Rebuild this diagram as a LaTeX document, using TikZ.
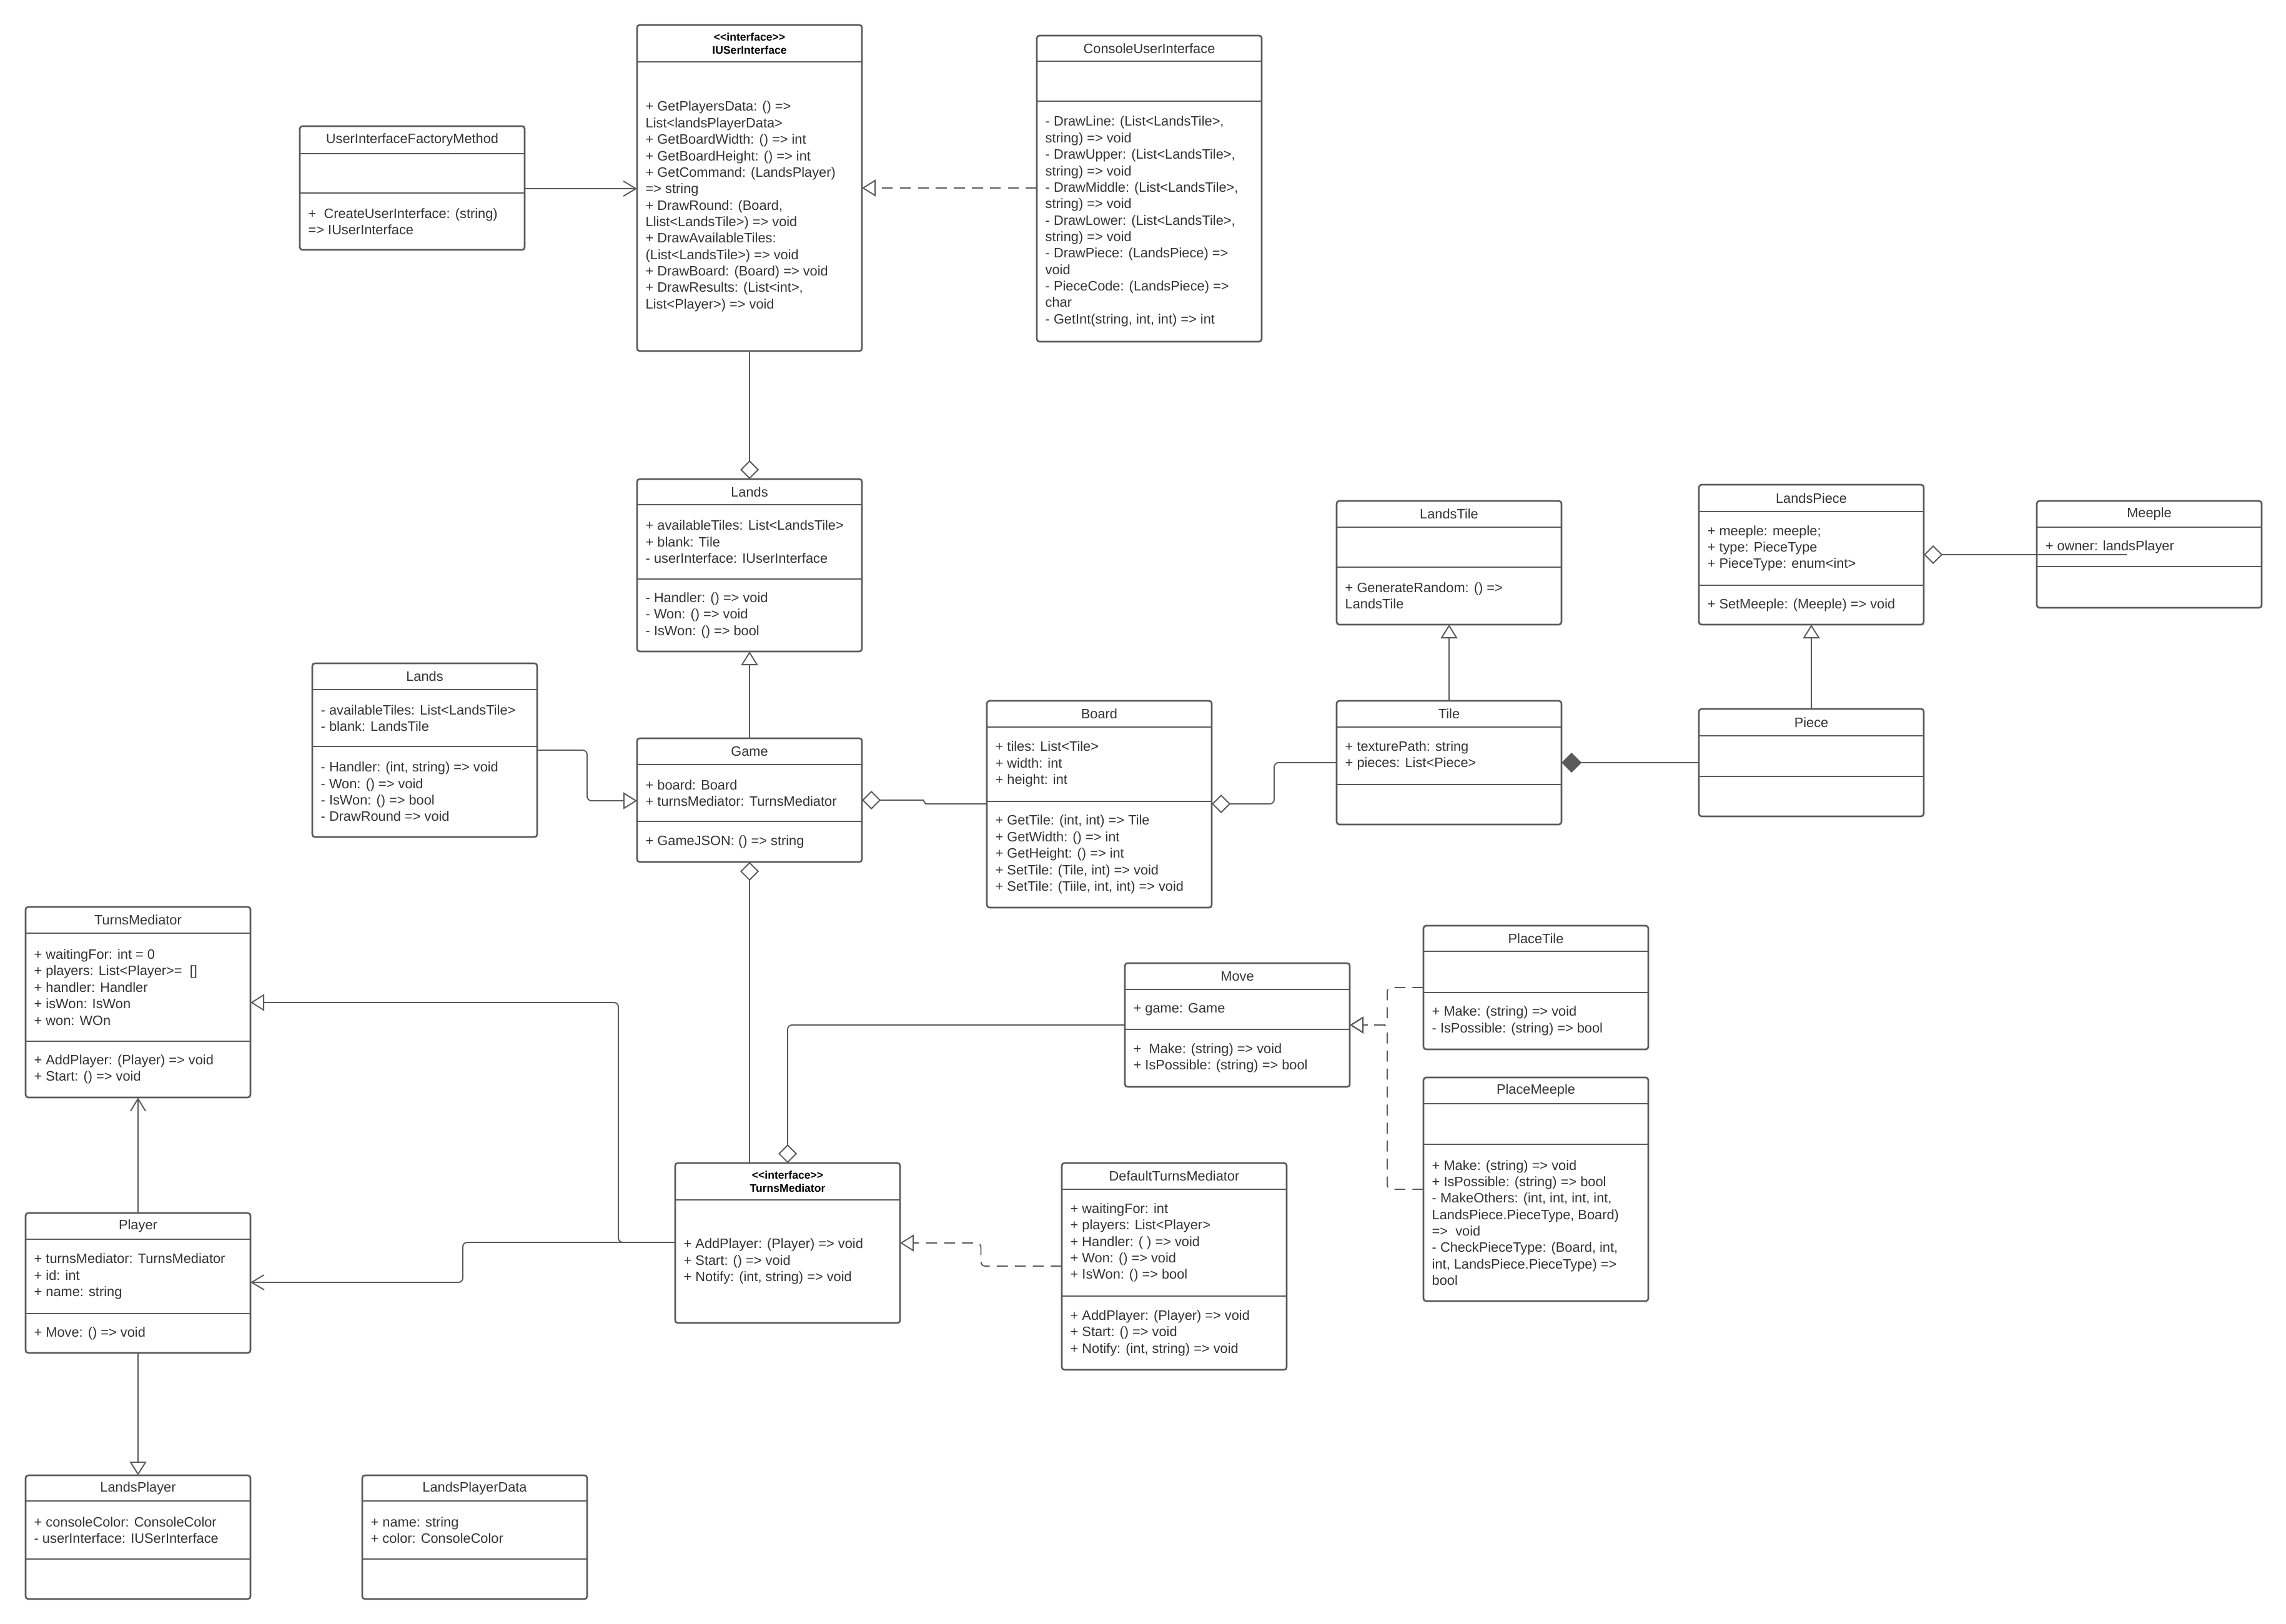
\documentclass[tikz,border=0pt]{standalone}
\usepackage{fontspec}
\setmainfont{Liberation Sans}
\usepackage{xcolor}
\usepackage{tikz}
\usetikzlibrary{arrows.meta,calc}
\definecolor{umlline}{HTML}{5A5A5A}
\definecolor{umltext}{HTML}{333333}

% name, x, y, height, first rule, second rule, title, attributes, operations
\newcommand{\umlclass}[9]{%
  \node[classbox, minimum height=#4mm] (#1) at (#2,#3) {};
  \draw[rulebar] ($(#1.north west)+(0,#5)$) -- ($(#1.north east)+(0,#5)$);
  \draw[rulebar] ($(#1.north west)+(0,#6)$) -- ($(#1.north east)+(0,#6)$);
  \node[classname] (#1-name) at ($(#1.north)+(0,#5/2)$) {#7};
  \node[members] (#1-attr) at ($(#1.north west)+(1.3,{(#5+#6)/2})$) {#8};
  \node[members] (#1-ops) at ($(#1.north west)+(1.3,{(#6+#4)/2})$) {#9};
}
% name, x, y, height, rule, title, operations
\newcommand{\umliface}[7]{%
  \node[classbox, minimum height=#4mm] (#1) at (#2,#3) {};
  \draw[rulebar] ($(#1.north west)+(0,#5)$) -- ($(#1.north east)+(0,#5)$);
  \node[ifacename] (#1-name) at ($(#1.north)+(0,#5/2)$) {#6};
  \node[members] (#1-ops) at ($(#1.north west)+(1.3,{(#5+#4)/2})$) {#7};
}

\begin{document}
\begin{tikzpicture}[
  x=1mm, y=-1mm,
  classbox/.style={draw=umlline, line width=0.75pt, fill=white, rounded corners=1.2pt,
                   minimum width=36mm, inner sep=0pt, outer sep=0pt, anchor=north west},
  rulebar/.style={draw=umlline, line width=0.75pt},
  classname/.style={font=\fontsize{6.2}{7.5}\selectfont, text=umltext, inner sep=0pt},
  ifacename/.style={font=\bfseries\fontsize{5}{6}\selectfont, text=black, align=center, inner sep=0pt},
  members/.style={font=\fontsize{6.2}{7.5}\selectfont, text=umltext, align=left, anchor=west, inner sep=0pt},
  conn/.style={draw=umlline, line width=0.55pt, rounded corners=2pt},
  gen/.style={conn, -{Triangle[open, length=2.2mm, width=2.7mm]}},
  real/.style={gen, dash pattern=on 5pt off 3.2pt},
  aggr/.style={conn, -{Diamond[open, length=3mm, width=3mm]}},
  comp/.style={conn, -{Diamond[length=3.2mm, width=3.2mm]}, fill=umlline},
  assoc/.style={conn, -{Straight Barb[length=2mm, width=2.4mm]}}
]
  \path[use as bounding box, fill=white] (0,0) rectangle (366,260);

  \umliface{iuser}{102}{4}{52.2}{5.9}{<{}<interface>{}>\\IUSerInterface}
    {+ GetPlayersData: () =>\\List<landsPlayerData>\\+ GetBoardWidth: () => int\\+ GetBoardHeight: () => int\\+ GetCommand: (LandsPlayer)\\=> string\\+ DrawRound: (Board,\\Llist<LandsTile>) => void\\+ DrawAvailableTiles:\\(List<LandsTile>) => void\\+ DrawBoard: (Board) => void\\+ DrawResults: (List<int>,\\List<Player>) => void}
  \umlclass{console}{166}{5.7}{49}{4.1}{10.5}{ConsoleUserInterface}{}
    {- DrawLine: (List<LandsTile>,\\string) => void\\- DrawUpper: (List<LandsTile>,\\string) => void\\- DrawMiddle: (List<LandsTile>,\\string) => void\\- DrawLower: (List<LandsTile>,\\string) => void\\- DrawPiece: (LandsPiece) =>\\void\\- PieceCode: (LandsPiece) =>\\char\\- GetInt(string, int, int) => int}
  \umlclass{factory}{48}{20.2}{19.8}{4.4}{10.7}{UserInterfaceFactoryMethod}{}
    {+~ CreateUserInterface: (string)\\=> IUserInterface}
  \umlclass{lands}{102}{76.7}{27.6}{4.1}{16}{Lands}
    {+ availableTiles: List<LandsTile>\\+ blank: Tile\\- userInterface: IUserInterface}
    {- Handler: () => void\\- Won: () => void\\- IsWon: () => bool}
  \umlclass{landsold}{50}{106.2}{27.8}{4.2}{13.3}{Lands}
    {- availableTiles: List<LandsTile>\\- blank: LandsTile}
    {- Handler: (int, string) => void\\- Won: () => void\\- IsWon: () => bool\\- DrawRound => void}
  \umlclass{game}{102}{118.2}{19.8}{4.2}{13.3}{Game}
    {+ board: Board\\+ turnsMediator: TurnsMediator}
    {+ GameJSON: () => string}
  \umlclass{board}{158}{112.2}{33.1}{4.2}{16.1}{Board}
    {+ tiles: List<Tile>\\+ width: int\\+ height: int}
    {+ GetTile: (int, int) => Tile\\+ GetWidth: () => int\\+ GetHeight: () => int\\+ SetTile: (Tile, int) => void\\+ SetTile: (Tiile, int, int) => void}
  \umlclass{landstile}{214}{80.2}{19.8}{4.2}{10.6}{LandsTile}{}
    {+ GenerateRandom: () =>\\LandsTile}
  \umlclass{tile}{214}{112.2}{19.8}{4.2}{13.4}{Tile}
    {+ texturePath: string\\+ pieces: List<Piece>}{}
  \umlclass{landspiece}{272}{77.6}{22.4}{4.3}{16.1}{LandsPiece}
    {+ meeple: meeple;\\+ type: PieceType\\+ PieceType: enum<int>}
    {+ SetMeeple: (Meeple) => void}
  \umlclass{piece}{272}{113.5}{17.2}{4.3}{10.8}{Piece}{}{}
  \umlclass{meeple}{326.1}{80.2}{17.1}{4.2}{10.5}{Meeple}
    {+ owner: landsPlayer}{}
  \umlclass{turnsmed}{4.1}{145.2}{30.5}{4.2}{21.5}{TurnsMediator}
    {+ waitingFor: int = 0\\+ players: List<Player>=~ []\\+ handler: Handler\\+ isWon: IsWon\\+ won: WOn}
    {+ AddPlayer: (Player) => void\\+ Start: () => void}
  \umlclass{player}{4.1}{194.2}{22.4}{4.2}{16.1}{Player}
    {+ turnsMediator: TurnsMediator\\+ id: int\\+ name: string}
    {+ Move: () => void}
  \umlclass{landsplayer}{4.1}{236.2}{19.8}{4.1}{13.4}{LandsPlayer}
    {+ consoleColor: ConsoleColor\\- userInterface: IUSerInterface}{}
  \umlclass{playerdata}{58}{236.2}{19.8}{4.1}{13.4}{LandsPlayerData}
    {+ name: string\\+ color: ConsoleColor}{}
  \umliface{iturns}{108.1}{186.2}{25.6}{5.9}{<{}<interface>{}>\\TurnsMediator}
    {+ AddPlayer: (Player) => void\\+ Start: () => void\\+ Notify: (int, string) => void}
  \umlclass{defturns}{170}{186.2}{33.1}{4.2}{21.3}{DefaultTurnsMediator}
    {+ waitingFor: int\\+ players: List<Player>\\+ Handler: ( ) => void\\+ Won: () => void\\+ IsWon: () => bool}
    {+ AddPlayer: (Player) => void\\+ Start: () => void\\+ Notify: (int, string) => void}
  \umlclass{move}{180.1}{154.2}{19.8}{4.2}{10.6}{Move}
    {+ game: Game}
    {+~ Make: (string) => void\\+ IsPossible: (string) => bool}
  \umlclass{placetile}{227.9}{148.2}{19.8}{4.1}{10.7}{PlaceTile}{}
    {+ Make: (string) => void\\- IsPossible: (string) => bool}
  \umlclass{placemeeple}{227.9}{172.5}{35.8}{4.2}{10.7}{PlaceMeeple}{}
    {+ Make: (string) => void\\+ IsPossible: (string) => bool\\- MakeOthers: (int, int, int, int,\\LandsPiece.PieceType, Board)\\=>~ void\\- CheckPieceType: (Board, int,\\int, LandsPiece.PieceType) =>\\bool}

  \coordinate (f1) at ([yshift=-10mm]factory.north east);
  \coordinate (c1) at ([yshift=-24.4mm]console.north west);
  \draw[assoc] (f1) -- (f1 -| iuser.west);
  \draw[real] (c1) -- (c1 -| iuser.east);
  \draw[aggr] (iuser.south) -- (lands.north);
  \draw[gen] (game.north) -- (lands.south);

  \coordinate (l1) at ([yshift=-13.9mm]landsold.north east);
  \coordinate (g1) at ([yshift=-10mm]game.north west);
  \draw[gen] (l1) -| ($(l1)!0.5!(g1)$) |- (g1);

  \coordinate (g2) at ([yshift=-9.9mm]game.north east);
  \coordinate (b1) at ([yshift=-16.5mm]board.north west);
  \draw[aggr, rounded corners=0pt] (b1) -- +(-9.8,0) -- ($(g2)+(9.8,0)$) -- (g2);

  \coordinate (b2) at ([yshift=-16.5mm]board.north east);
  \coordinate (t1) at ([yshift=-9.9mm]tile.north west);
  \draw[aggr] (t1) -| ($(t1)!0.5!(b2)$) |- (b2);

  \coordinate (p1) at ([yshift=-8.6mm]piece.north west);
  \draw[comp] (p1) -- (p1 -| tile.east);
  \draw[gen] (tile.north) -- (landstile.south);
  \draw[gen] (piece.north) -- (landspiece.south);

  \coordinate (m1) at ([xshift=14.4mm, yshift=-8.6mm]meeple.north west);
  \draw[aggr] (m1) -- (m1 -| landspiece.east);

  \draw[assoc] (player.north) -- (turnsmed.south);
  \draw[gen] (player.south) -- (landsplayer.north);

  \coordinate (i1) at ([yshift=-12.7mm]iturns.north west);
  \coordinate (tm1) at ([yshift=-15.3mm]turnsmed.north east);
  \coordinate (pl1) at ([yshift=-11.1mm]player.north east);
  \draw[gen] (i1) -- ++(-9.1,0) |- (tm1);
  \draw[assoc] (i1) -- ++(-34,0) |- (pl1);

  \draw[aggr] (iturns.north -| game.south) -- (game.south);
  \coordinate (mv1) at ([yshift=-9.9mm]move.north west);
  \draw[aggr] (mv1) -| (iturns.north);

  \coordinate (d1) at ([yshift=-16.5mm]defturns.north west);
  \coordinate (i2) at ([yshift=-12.8mm]iturns.north east);
  \draw[real] (d1) -| ($(d1)!0.5!(i2)$) |- (i2);

  \coordinate (mv2) at ([yshift=-9.9mm]move.north east);
  \coordinate (pt1) at ([yshift=-9.9mm]placetile.north west);
  \coordinate (pm1) at ([yshift=-17.9mm]placemeeple.north west);
  \draw[real] (pt1) -| ($(mv2)+(6,0)$) -- (mv2);
  \draw[real] (pm1) -| ($(mv2)+(6,0)$) -- (mv2);
\end{tikzpicture}
\end{document}
